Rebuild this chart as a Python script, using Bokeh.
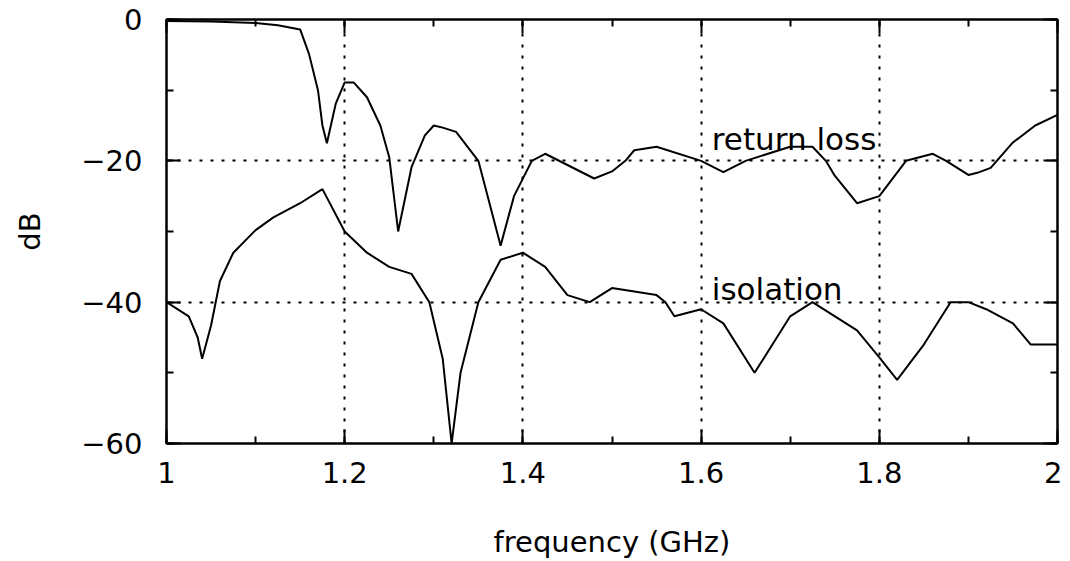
from bokeh.plotting import figure
from bokeh.models import LinearAxis, FixedTicker, CustomJSTickFormatter, Range1d
from bokeh.core.properties import value
from bokeh.embed import file_html
from bokeh.resources import INLINE

# ---- data ----
freq_rl = [1.0, 1.05, 1.1, 1.125, 1.15, 1.16, 1.17, 1.175, 1.18, 1.19, 1.2, 1.21,
           1.225, 1.24, 1.25, 1.26, 1.275, 1.29, 1.3, 1.31, 1.325, 1.35, 1.375, 1.39,
           1.41, 1.425, 1.48, 1.5, 1.515, 1.525, 1.55, 1.6, 1.625, 1.65, 1.7, 1.725,
           1.74, 1.75, 1.775, 1.8, 1.83, 1.86, 1.875, 1.9, 1.91, 1.925, 1.95, 1.975, 2.0]
return_loss = [-0.2, -0.3, -0.5, -0.8, -1.4, -4.9, -10.0, -15.0, -17.5, -11.9, -8.9, -8.9,
               -11.0, -15.0, -19.5, -30.0, -20.9, -16.4, -15.0, -15.3, -15.9, -20.0, -32.0, -25.0,
               -20.0, -19.0, -22.5, -21.5, -20.0, -18.5, -18.0, -20.0, -21.6, -20.0, -18.0, -18.0,
               -20.0, -22.1, -26.0, -25.0, -20.0, -19.0, -20.0, -22.0, -21.7, -21.0, -17.4, -15.0, -13.5]

freq_iso = [1.0, 1.025, 1.035, 1.04, 1.05, 1.06, 1.075, 1.1, 1.12, 1.15, 1.175, 1.2,
            1.225, 1.25, 1.275, 1.295, 1.31, 1.32, 1.33, 1.35, 1.375, 1.4, 1.425, 1.45,
            1.475, 1.5, 1.55, 1.56, 1.57, 1.6, 1.625, 1.66, 1.7, 1.725, 1.775, 1.8,
            1.82, 1.85, 1.88, 1.9, 1.92, 1.95, 1.97, 2.0]
isolation = [-40.0, -42.0, -45.0, -48.0, -43.3, -37.0, -33.0, -29.8, -28.0, -26.0, -24.0, -30.0,
             -33.0, -35.0, -36.0, -40.0, -48.0, -60.0, -50.0, -40.0, -34.0, -33.0, -35.0, -39.0,
             -40.0, -38.0, -39.0, -40.0, -42.0, -41.0, -43.0, -50.0, -42.0, -40.0, -44.0, -47.8,
             -51.0, -46.0, -40.0, -40.0, -41.0, -43.0, -46.0, -46.0]

x_major = [1.0, 1.2, 1.4, 1.6, 1.8, 2.0]
x_minor = [1.0, 1.1, 1.2, 1.3, 1.4, 1.5, 1.6, 1.7, 1.8, 1.9, 2.0]
y_major = [-60, -40, -20, 0]
y_minor = [-60, -50, -40, -30, -20, -10, 0]
x_grid = [1.2, 1.4, 1.6, 1.8]
y_grid = [-40, -20]
x_title = "frequency (GHz)"
y_title = "dB"
series_names = ["return loss", "isolation"]
name_x = [1.612, 1.612]
name_y = [-16.9, -38.2]

FONT = "DejaVu Sans"
FS = "29px"

p = figure(frame_width=891, frame_height=424, output_backend="svg", toolbar_location=None,
           x_range=Range1d(1.0, 2.0), y_range=Range1d(-60, 0),
           min_border_left=166, min_border_right=5, min_border_top=19, min_border_bottom=110,
           x_axis_label=x_title, y_axis_label=y_title)
p.background_fill_color = "white"
p.border_fill_color = "white"
p.outline_line_color = "black"
p.outline_line_width = 2

fmt_x = CustomJSTickFormatter(code="return tick.toFixed(1).replace(/\\.0$/, '');")
fmt_y = CustomJSTickFormatter(code="return (tick < 0 ? '\\u2212' : '') + Math.abs(tick).toFixed(0);")
fmt_none = CustomJSTickFormatter(code="return '';")

def style_axis(ax, ticker, fmt):
    ax.ticker = ticker
    ax.formatter = fmt
    ax.axis_line_color = "black"
    ax.axis_line_width = 2
    ax.major_tick_in = 14
    ax.major_tick_out = 0
    ax.minor_tick_in = 7
    ax.minor_tick_out = 0
    ax.major_tick_line_color = "black"
    ax.minor_tick_line_color = "black"
    ax.major_tick_line_width = 2
    ax.minor_tick_line_width = 2
    ax.major_label_text_font = FONT
    ax.major_label_text_font_size = FS
    ax.major_label_text_color = "black"
    ax.axis_label_text_font = FONT
    ax.axis_label_text_font_size = FS
    ax.axis_label_text_font_style = "normal"
    ax.axis_label_text_color = "black"

xb = p.xaxis[0]
yl = p.yaxis[0]
style_axis(xb, FixedTicker(ticks=x_major, minor_ticks=x_minor), fmt_x)
style_axis(yl, FixedTicker(ticks=y_major, minor_ticks=y_minor), fmt_y)
xb.major_label_standoff = 18
xb.axis_label_standoff = 39
yl.major_label_standoff = 24
yl.axis_label_standoff = 31

xt = LinearAxis()
style_axis(xt, FixedTicker(ticks=x_major, minor_ticks=x_minor), fmt_none)
xt.major_label_standoff = 0
p.add_layout(xt, "above")
yr = LinearAxis()
style_axis(yr, FixedTicker(ticks=y_major, minor_ticks=y_minor), fmt_none)
yr.major_label_standoff = 0
p.add_layout(yr, "right")

p.xgrid.ticker = FixedTicker(ticks=x_grid)
p.ygrid.ticker = FixedTicker(ticks=y_grid)
for g in (p.xgrid[0], p.ygrid[0]):
    g.grid_line_color = "black"
    g.grid_line_width = 2
    g.grid_line_dash = "3 8"

p.line(freq_rl, return_loss, line_color="black", line_width=2)
p.line(freq_iso, isolation, line_color="black", line_width=2)

p.text(x=name_x, y=name_y, text=series_names, text_font=value(FONT),
       text_font_size=value("31px"), text_color="black", text_baseline="alphabetic",
       text_align="left")

open("out.html", "w").write(file_html(p, INLINE))
